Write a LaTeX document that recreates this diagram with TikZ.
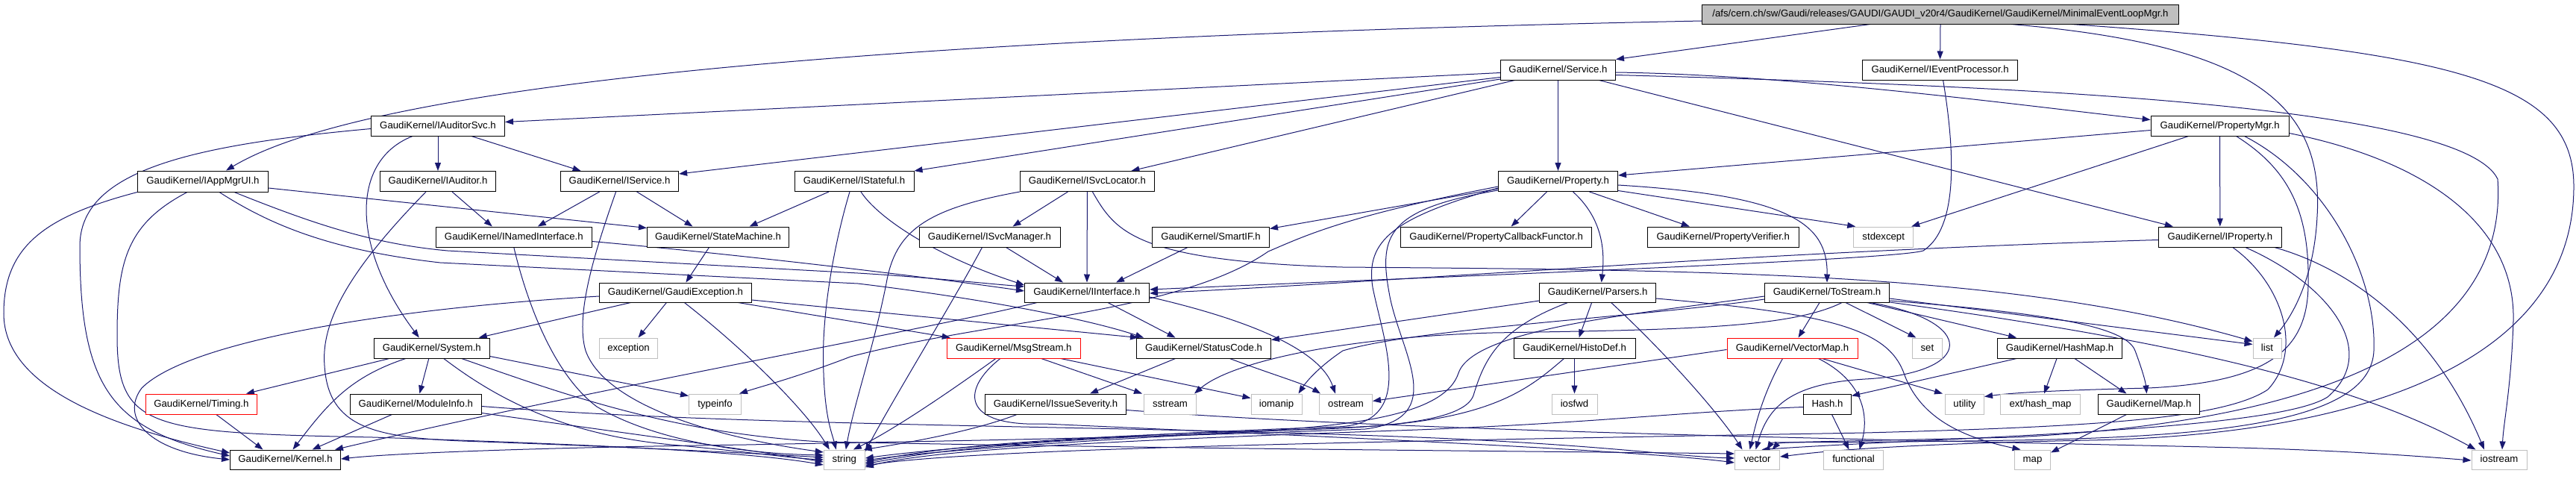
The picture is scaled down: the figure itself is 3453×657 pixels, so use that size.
\documentclass[tikz,border=0pt]{standalone}
\usepackage{fontspec}
\setmainfont{Liberation Sans}
\usetikzlibrary{arrows.meta}
\definecolor{navy}{HTML}{191970}
\definecolor{grayb}{HTML}{BFBFBF}
\newcommand{\gkfont}{\fontsize{13.2pt}{15pt}\selectfont}
\pgfdeclarelayer{edgelayer}
\pgfsetlayers{edgelayer,main}
\begin{document}
\begin{tikzpicture}[x=1pt,y=-1pt,
  box/.style={draw=black,line width=1pt,fill=white,inner sep=0pt,minimum height=27pt,font=\gkfont,text height=10pt,text depth=3pt},
  gbox/.style={box,draw=grayb},
  rbox/.style={box,draw=red},
  e/.style={draw=navy,line width=1pt,-{Triangle[length=11pt,width=8pt]}}]
\useasboundingbox (0,0) rectangle (3453,657);
% ---------- nodes ----------
\node[box,fill=grayb,minimum width=639pt,minimum height=26pt] (root) at (2601,19) {/afs/cern.ch/sw/Gaudi/releases/GAUDI/GAUDI\_v20r4/GaudiKernel/GaudiKernel/MinimalEventLoopMgr.h};
\node[box,minimum width=154pt] (svc) at (2088.5,93.5) {GaudiKernel/Service.h};
\node[box,minimum width=208pt] (iep) at (2600.6,93.5) {GaudiKernel/IEventProcessor.h};
\node[box,minimum width=179pt] (audsvc) at (587,168.5) {GaudiKernel/IAuditorSvc.h};
\node[box,minimum width=185pt] (pmgr) at (2975.6,168.5) {GaudiKernel/PropertyMgr.h};
\node[box,minimum width=175pt,minimum height=28pt] (appmgr) at (272,243) {GaudiKernel/IAppMgrUI.h};
\node[box,minimum width=155pt] (aud) at (587,243) {GaudiKernel/IAuditor.h};
\node[box,minimum width=158pt] (isvc) at (830.6,243) {GaudiKernel/IService.h};
\node[box,minimum width=160pt] (istf) at (1145,243) {GaudiKernel/IStateful.h};
\node[box,minimum width=180pt] (loc) at (1457.4,243) {GaudiKernel/ISvcLocator.h};
\node[box,minimum width=160pt] (prop) at (2088.5,243) {GaudiKernel/Property.h};
\node[box,minimum width=209pt] (nint) at (688.8,317.5) {GaudiKernel/INamedInterface.h};
\node[box,minimum width=190pt] (sm) at (962.5,317.5) {GaudiKernel/StateMachine.h};
\node[box,minimum width=189pt] (smgr) at (1326.5,317.5) {GaudiKernel/ISvcManager.h};
\node[box,minimum width=157pt] (smart) at (1623,317.5) {GaudiKernel/SmartIF.h};
\node[box,minimum width=256pt] (pcf) at (2005.6,317.5) {GaudiKernel/PropertyCallbackFunctor.h};
\node[box,minimum width=203pt] (pver) at (2309.8,317.5) {GaudiKernel/PropertyVerifier.h};
\node[gbox,minimum width=80pt] (stdex) at (2524.7,317.5) {stdexcept};
\node[box,minimum width=165pt] (iprop) at (2975.8,317.5) {GaudiKernel/IProperty.h};
\node[box,minimum width=204pt,minimum height=26pt] (gexc) at (905.4,392) {GaudiKernel/GaudiException.h};
\node[box,minimum width=167pt,minimum height=26pt] (iint) at (1457,392) {GaudiKernel/IInterface.h};
\node[box,minimum width=156pt,minimum height=26pt] (pars) at (2141.6,392) {GaudiKernel/Parsers.h};
\node[box,minimum width=167pt,minimum height=26pt] (tost) at (2449,392) {GaudiKernel/ToStream.h};
\node[box,minimum width=155pt] (sys) at (578.8,466.5) {GaudiKernel/System.h};
\node[gbox,minimum width=78pt] (exc) at (842.5,466.5) {exception};
\node[rbox,minimum width=179pt] (msg) at (1358.8,466.5) {GaudiKernel/MsgStream.h};
\node[box,minimum width=180pt] (sc) at (1613.5,466.5) {GaudiKernel/StatusCode.h};
\node[box,minimum width=163pt] (hdef) at (2110.5,466.5) {GaudiKernel/HistoDef.h};
\node[rbox,minimum width=175pt] (vmap) at (2402.5,466.5) {GaudiKernel/VectorMap.h};
\node[gbox,minimum width=40pt] (set) at (2583.4,466.5) {set};
\node[box,minimum width=167pt] (hmap) at (2761,466.5) {GaudiKernel/HashMap.h};
\node[gbox,minimum width=38pt] (list) at (3039,466.5) {list};
\node[rbox,minimum width=149pt] (timing) at (269.9,541.5) {GaudiKernel/Timing.h};
\node[box,minimum width=176pt] (minfo) at (557.4,541.5) {GaudiKernel/ModuleInfo.h};
\node[gbox,minimum width=70pt] (tinfo) at (958.5,541.5) {typeinfo};
\node[box,minimum width=189pt] (isev) at (1415,541.5) {GaudiKernel/IssueSeverity.h};
\node[gbox,minimum width=70pt] (sstr) at (1568.5,541.5) {sstream};
\node[gbox,minimum width=68pt] (ioman) at (1711,541.5) {iomanip};
\node[gbox,minimum width=71pt] (ostr) at (1804,541.5) {ostream};
\node[gbox,minimum width=61pt] (iosfwd) at (2110.5,541.5) {iosfwd};
\node[box,minimum width=64pt] (hash) at (2449.5,541.5) {Hash.h};
\node[gbox,minimum width=52pt] (util) at (2633.5,541.5) {utility};
\node[gbox,minimum width=107pt] (exthm) at (2735,541.5) {ext/hash\_map};
\node[box,minimum width=136pt] (maph) at (2880.5,541.5) {GaudiKernel/Map.h};
\node[box,minimum width=148pt,minimum height=26pt] (kern) at (382.5,616) {GaudiKernel/Kernel.h};
\node[gbox,minimum width=55pt,minimum height=26pt] (str) at (1131.8,616) {string};
\node[gbox,minimum width=60pt,minimum height=26pt] (vec) at (2355.5,616) {vector};
\node[gbox,minimum width=80pt,minimum height=26pt] (func) at (2484.5,616) {functional};
\node[gbox,minimum width=48pt,minimum height=26pt] (map) at (2724.5,616) {map};
\node[gbox,minimum width=74pt,minimum height=26pt] (iostr) at (3350,616) {iostream};
% ---------- edges ----------
\begin{pgfonlayer}{edgelayer}
\fill[white] (0,0) rectangle (3453,657);
% root
\draw[e] ([yshift=-9pt]root.west) .. controls (1200,50) and (500,110) .. ([xshift=31pt]appmgr.north);
\draw[e] ([xshift=-94pt]root.south) -- (svc.north east);
\draw[e] (root.south) -- (iep.north);
\draw[e] ([xshift=95pt]root.south) .. controls (3020,60) and (3115,140) .. (3106,290) .. controls (3102,370) and (3075,420) .. ([xshift=9pt]list.north);
\draw[e] ([xshift=176pt]root.south) .. controls (3300,70) and (3450,110) .. (3450,250) .. controls (3450,470) and (3200,582) .. (2800,590) .. controls (2500,596) and (2420,608) .. ([yshift=4pt]vec.east);
% Service
\draw[e] ([yshift=-4pt]svc.west) -- ([yshift=5pt]audsvc.east);
\draw[e] ([yshift=-10pt]svc.west) -- ([yshift=10pt]isvc.east);
\draw[e] ([yshift=-12.5pt]svc.west) -- (istf.north east);
\draw[e] ([xshift=-58pt]svc.south) -- ([xshift=59pt]loc.north);
\draw[e] (svc.south) -- (prop.north);
\draw[e] ([yshift=-3.5pt]svc.east) .. controls (2400,100) and (2700,140) .. ([yshift=8pt]pmgr.west);
\draw[e] ([xshift=55pt]svc.south) -- ([xshift=20pt]iprop.north west);
\draw[e] ([yshift=-7pt]svc.east) .. controls (2700,115) and (3300,140) .. (3348,240) .. controls (3360,420) and (3200,560) .. (2700,586) .. controls (2450,592) and (2385,592) .. ([xshift=20pt]vec.north);
% IEventProcessor
\draw[e] ([xshift=4pt]iep.south) .. controls (2625,230) and (2618,310) .. (2578,336) .. controls (2540,348) and (2000,368) .. ([yshift=4pt]iint.east);
% IAuditorSvc
\draw[e] (audsvc.south) -- (aud.north);
\draw[e] ([xshift=45pt]audsvc.south) -- ([xshift=-52pt]isvc.north);
\draw[e] ([xshift=-34pt]audsvc.south) .. controls (470,215) and (470,330) .. ([xshift=-17pt]sys.north);
\draw[e] ([yshift=-4pt]audsvc.west) .. controls (250,195) and (107,230) .. (107,330) .. controls (107,520) and (150,575) .. ([yshift=5pt]kern.west);
% PropertyMgr
\draw[e] ([yshift=-6pt]pmgr.west) -- ([yshift=8pt]prop.east);
\draw[e] ([xshift=-42pt]pmgr.south) -- ([xshift=-3pt]stdex.north east);
\draw[e] (pmgr.south) -- (iprop.north);
\draw[e] ([xshift=22pt]pmgr.south) .. controls (3065,225) and (3096,280) .. (3094,380) .. controls (3094,470) and (3040,512) .. (2880,520) .. controls (2760,523) and (2700,526) .. ([yshift=10pt]util.east);
\draw[e] ([xshift=33pt]pmgr.south) .. controls (3120,240) and (3186,370) .. (3182,470) .. controls (3178,560) and (3000,585) .. (2700,590) .. controls (2450,594) and (2375,592) .. ([xshift=13pt]vec.north);
\draw[e] ([yshift=-10pt]pmgr.east) .. controls (3250,215) and (3372,300) .. (3369,430) .. controls (3366,520) and (3356,565) .. ([xshift=4pt]iostr.north);
% IAppMgrUI
\draw[e] (appmgr.south west) .. controls (60,290) and (5,330) .. (5,420) .. controls (5,520) and (150,572) .. ([yshift=9pt]kern.west);
\draw[e] ([xshift=-21pt]appmgr.south) .. controls (170,300) and (157,350) .. (157,450) .. controls (157,575) and (200,580) .. (500,586) .. controls (800,596) and (1000,605) .. ([yshift=-7pt]str.west);
\draw[e] ([xshift=42pt]appmgr.south) .. controls (420,300) and (500,327) .. (600,336) -- (1150,366) .. controls (1250,372) and (1320,380) .. ([yshift=8pt]iint.west);
\draw[e] ([xshift=22pt]appmgr.south) .. controls (360,300) and (440,335) .. (590,352) -- (1150,380) .. controls (1300,398) and (1450,425) .. ([xshift=10pt]sc.north west);
\draw[e] ([yshift=-9pt]appmgr.east) -- ([yshift=12pt]sm.west);
% IAuditor
\draw[e] ([xshift=19pt]aud.south) -- ([xshift=-29pt]nint.north);
\draw[e] ([xshift=-16pt]aud.south) .. controls (470,360) and (430,430) .. (435,490) .. controls (440,572) and (500,586) .. (620,591) .. controls (900,601) and (1050,610) .. ([yshift=3pt]str.west);
% IService
\draw[e] ([xshift=-27pt]isvc.south) -- ([xshift=32pt]nint.north);
\draw[e] ([xshift=23pt]isvc.south) -- ([xshift=-34pt]sm.north);
\draw[e] ([xshift=-5pt]isvc.south) .. controls (800,330) and (770,420) .. (785,470) .. controls (810,540) and (950,585) .. ([yshift=10pt]str.west);
% INamedInterface
\draw[e] ([yshift=-6pt]nint.east) .. controls (1000,342) and (1250,372) .. ([yshift=2pt]iint.west);
\draw[e] (nint.south) .. controls (705,400) and (740,500) .. (800,545) .. controls (880,592) and (1000,608) .. ([yshift=6pt]str.west);
% StateMachine
\draw[e] ([xshift=-12pt]sm.south) -- ([xshift=14pt]gexc.north);
% IStateful
\draw[e] ([xshift=9pt]istf.south) .. controls (1175,290) and (1250,342) .. ([yshift=10pt]iint.west);
\draw[e] ([xshift=-34pt]istf.south) -- ([xshift=42pt]sm.north);
\draw[e] ([xshift=-6pt]istf.south) .. controls (1120,320) and (1100,420) .. (1104,500) .. controls (1106,560) and (1115,580) .. ([xshift=-11pt]str.north);
% ISvcLocator
\draw[e] ([xshift=-26pt]loc.south) -- ([xshift=31pt]smgr.north);
\draw[e] (loc.south) -- (iint.north);
\draw[e] (loc.south west) .. controls (1240,280) and (1200,310) .. (1188,380) .. controls (1170,470) and (1145,540) .. ([xshift=2pt]str.north);
\draw[e] ([xshift=7pt]loc.south) .. controls (1495,310) and (1520,350) .. (1800,358) .. controls (2300,362) and (2700,365) .. ([yshift=9pt]list.west);
% ISvcManager
\draw[e] ([xshift=22pt]smgr.south) -- ([xshift=-32pt]iint.north);
\draw[e] ([xshift=-10pt]smgr.south) .. controls (1280,400) and (1200,530) .. ([yshift=11pt]str.east);
% SmartIF
\draw[e] ([xshift=-31pt]smart.south) -- ([xshift=39pt]iint.north);
% Property
\draw[e] ([yshift=-10pt]prop.west) -- ([yshift=11pt]smart.east);
\draw[e] ([xshift=-15pt]prop.south) -- ([xshift=20pt]pcf.north);
\draw[e] ([xshift=42pt]prop.south) -- ([xshift=-45pt]pver.north);
\draw[e] ([yshift=-12.5pt]prop.east) -- ([xshift=3pt]stdex.north west);
\draw[e] ([yshift=-5pt]prop.east) .. controls (2400,262) and (2450,300) .. (tost.north);
\draw[e] ([xshift=20pt]prop.south) .. controls (2145,290) and (2152,330) .. ([xshift=5pt]pars.north);
\draw[e] ([yshift=-7pt]prop.west) .. controls (1800,290) and (1745,318) .. (1700,337) .. controls (1580,420) and (1330,428) .. (1140,478) .. controls (1070,505) and (1020,518) .. ([xshift=-3pt]tinfo.north east);
\draw[e] ([yshift=-9pt]prop.west) .. controls (1868,292) and (1830,322) .. (1840,385) .. controls (1855,460) and (1900,570) .. (1790,572) .. controls (1500,582) and (1260,600) .. ([yshift=2pt]str.east);
\draw[e] ([yshift=-12pt]prop.west) .. controls (1860,280) and (1848,315) .. (1862,392) .. controls (1875,470) and (1945,560) .. (1830,575) .. controls (1500,588) and (1200,592) .. (1000,596) .. controls (700,600) and (520,608) .. ([yshift=1pt]kern.east);
% IProperty
\draw[e] ([yshift=-4pt]iprop.west) .. controls (2600,330) and (2300,347) .. (2100,360) .. controls (1900,372) and (1700,386) .. ([yshift=-1pt]iint.east);
\draw[e] ([xshift=73pt]iprop.south) .. controls (3150,360) and (3262,440) .. ([xshift=-20pt]iostr.north);
\draw[e] ([xshift=17pt]iprop.south) .. controls (3060,380) and (3088,470) .. (3040,522) .. controls (2980,562) and (2800,572) .. (2500,580) .. controls (1800,592) and (1300,602) .. ([yshift=-8pt]str.east);
\draw[e] ([xshift=34pt]iprop.south) .. controls (3120,380) and (3192,470) .. (3120,532) .. controls (3050,578) and (2600,586) .. ([xshift=6pt]vec.north);
% GaudiException
\draw[e] ([yshift=-5pt]gexc.west) .. controls (500,415) and (250,460) .. (190,520) .. controls (160,560) and (200,605) .. (kern.west);
\draw[e] ([xshift=-60pt]gexc.south) -- ([xshift=63pt]sys.north);
\draw[e] ([xshift=-12pt]gexc.south) -- ([xshift=13pt]exc.north);
\draw[e] ([xshift=12pt]gexc.south) .. controls (1000,470) and (1080,550) .. ([xshift=-20pt]str.north);
\draw[e] ([yshift=-10pt]gexc.east) -- ([xshift=3pt]sc.north west);
\draw[e] ([xshift=84pt]gexc.south) -- ([xshift=5pt]msg.north west);
% IInterface
\draw[e] ([xshift=-67pt]iint.south) .. controls (1250,440) and (800,520) .. ([xshift=-8pt]kern.north east);
\draw[e] ([xshift=28pt]iint.south) -- ([xshift=-38pt]sc.north);
\draw[e] ([yshift=-6pt]iint.east) .. controls (1680,430) and (1770,470) .. ([xshift=-14pt]ostr.north);
% Parsers
\draw[e] ([xshift=-8pt]pars.south) -- ([xshift=6pt]hdef.north);
\draw[e] ([yshift=-11pt]pars.west) -- ([yshift=11pt]sc.east);
\draw[e] ([xshift=-40pt]pars.south) .. controls (2010,440) and (1990,480) .. (1975,530) .. controls (1962,566) and (1850,574) .. (1700,577) .. controls (1400,586) and (1250,600) .. ([yshift=-4pt]str.east);
\draw[e] ([xshift=18pt]pars.south) .. controls (2230,470) and (2305,555) .. ([xshift=-20pt]vec.north);
\draw[e] ([yshift=-8pt]pars.east) .. controls (2450,420) and (2530,440) .. (2552,500) .. controls (2575,565) and (2640,588) .. ([xshift=-16pt]map.north);
% HistoDef
\draw[e] (hdef.south) -- (iosfwd.north);
\draw[e] ([xshift=-14pt]hdef.south) .. controls (2050,520) and (2000,566) .. (1800,573) .. controls (1500,586) and (1250,604) .. ([yshift=-1pt]str.east);
% ToStream
\draw[e] ([xshift=-10pt]tost.south) -- ([xshift=8pt]vmap.north);
\draw[e] ([xshift=25pt]tost.south) -- ([xshift=-15pt]set.north);
\draw[e] ([xshift=54pt]tost.south) -- ([xshift=-58pt]hmap.north);
\draw[e] ([xshift=58pt]tost.south) .. controls (2650,430) and (2650,500) .. (2500,508) .. controls (2400,514) and (2370,545) .. ([xshift=-2pt]vec.north);
\draw[e] ([yshift=-8pt]tost.east) -- ([yshift=5pt]list.west);
\draw[e] ([yshift=-11pt]tost.east) .. controls (2750,420) and (2850,438) .. (2862,470) .. controls (2872,497) and (2876,512) .. ([xshift=-3pt]maph.north);
\draw[e] ([yshift=-13pt]tost.east) .. controls (2900,455) and (3150,510) .. ([xshift=6pt]iostr.north west);
\draw[e] ([yshift=-5pt]tost.west) .. controls (2200,420) and (1975,440) .. (1955,500) .. controls (1935,560) and (1800,574) .. (1600,582) .. controls (1350,592) and (1240,606) .. ([yshift=-6pt]str.east);
\draw[e] ([yshift=-9pt]tost.west) .. controls (2200,425) and (1900,440) .. (1800,470) .. controls (1770,490) and (1752,510) .. ([xshift=-5pt]ioman.north east);
\draw[e] ([xshift=20pt]tost.south) .. controls (2400,440) and (2250,442) .. (2000,446) .. controls (1800,452) and (1650,485) .. ([xshift=-3pt]sstr.north east);
% VectorMap
\draw[e] ([xshift=-13pt]vmap.south) .. controls (2362,530) and (2353,570) .. ([xshift=-10pt]vec.north);
\draw[e] ([xshift=35pt]vmap.south) .. controls (2500,512) and (2505,560) .. ([xshift=8pt]func.north);
\draw[e] ([xshift=40pt]vmap.south) -- ([xshift=-3pt]util.north west);
\draw[e] ([yshift=-2pt]vmap.west) -- ([yshift=4pt]ostr.east);
% HashMap
\draw[e] ([xshift=-58pt]hmap.south) -- ([yshift=-3pt]hash.north east);
\draw[e] ([xshift=-4pt]hmap.south) -- ([xshift=5pt]exthm.north);
\draw[e] ([xshift=20pt]hmap.south) -- ([xshift=-30pt]maph.north);
% Hash
\draw[e] ([xshift=6pt]hash.south) -- ([xshift=-6pt]func.north);
\draw[e] ([yshift=-4pt]hash.west) .. controls (2250,552) and (2150,566) .. (1900,576) .. controls (1500,590) and (1250,602) .. ([yshift=-10pt]str.east);
% Map.h
\draw[e] ([xshift=-30pt]maph.south) -- ([yshift=-4pt]map.north east);
% System
\draw[e] ([xshift=-57pt]sys.south) -- ([xshift=60pt]timing.north);
\draw[e] ([xshift=-35pt]sys.south) .. controls (470,505) and (440,540) .. ([xshift=10pt]kern.north);
\draw[e] ([xshift=-4pt]sys.south) -- ([xshift=5pt]minfo.north);
\draw[e] ([yshift=-11pt]sys.east) -- ([yshift=11pt]tinfo.west);
\draw[e] ([xshift=16pt]sys.south) .. controls (660,530) and (750,582) .. (900,596) .. controls (1000,605) and (1060,614) .. (str.west);
\draw[e] ([xshift=40pt]sys.south) .. controls (760,530) and (900,580) .. (1100,592) .. controls (1600,602) and (2100,605) .. ([yshift=8pt]vec.west);
% Timing
\draw[e] ([xshift=20pt]timing.south) -- ([xshift=-30pt]kern.north);
% ModuleInfo
\draw[e] ([xshift=-32pt]minfo.south) -- ([xshift=36pt]kern.north);
\draw[e] ([yshift=-12pt]minfo.east) .. controls (800,575) and (1000,602) .. ([yshift=-3pt]str.west);
\draw[e] ([yshift=-3pt]minfo.east) .. controls (1000,572) and (1500,570) .. (1900,586) .. controls (2150,596) and (2250,612) .. ([yshift=2pt]vec.west);
% MsgStream
\draw[e] ([xshift=-24pt]msg.south) .. controls (1280,520) and (1200,575) .. ([xshift=12pt]str.north);
\draw[e] ([xshift=37pt]msg.south) -- ([xshift=-2pt]sstr.north west);
\draw[e] ([xshift=63pt]msg.south) -- ([yshift=8pt]ioman.west);
\draw[e] ([xshift=-18pt]msg.south) .. controls (1288,522) and (1288,572) .. (1400,568) .. controls (1800,586) and (2200,604) .. ([yshift=-4pt]vec.west);
% IssueSeverity
\draw[e] ([xshift=-52pt]isev.south) .. controls (1300,580) and (1200,596) .. ([xshift=-2pt]str.north east);
\draw[e] ([yshift=-8pt]isev.east) .. controls (1900,580) and (2600,590) .. (3000,600) .. controls (3150,604) and (3250,612) .. ([yshift=-1pt]iostr.west);
% StatusCode
\draw[e] ([xshift=-38pt]sc.south) -- ([xshift=46pt]isev.north);
\draw[e] ([xshift=35pt]sc.south) .. controls (1700,500) and (1750,515) .. ([xshift=2pt]ostr.north west);
\end{pgfonlayer}
\end{tikzpicture}
\end{document}
